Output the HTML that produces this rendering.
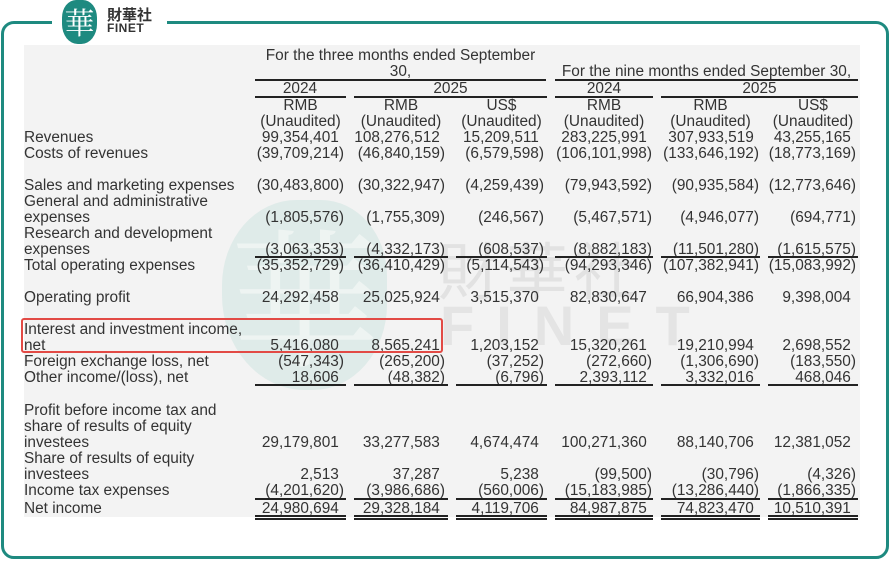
<!DOCTYPE html>
<html><head><meta charset="utf-8"><style>
*{margin:0;padding:0;box-sizing:border-box}
body{width:890px;height:581px;background:#fff;position:relative;overflow:hidden;font-family:"Liberation Sans",Arial,sans-serif;color:#333;font-size:15.4px}
.frame{position:absolute;left:1px;top:21px;width:888px;height:538px;border:3px solid #1e8a80;border-radius:13px}
.gap{position:absolute;left:52px;top:15px;width:115px;height:14px;background:#fff}
.bg{position:absolute;left:24px;top:45px;width:836px;height:472px;background:#f3f3f3}
.r{position:absolute;left:0;width:890px;height:16px;line-height:16px;white-space:nowrap;margin-top:2px}
.l{position:absolute;left:24px}
.n{position:absolute;text-align:right}
.c1{right:546px}.c2{right:445px}.c3{right:346px}.c4{right:238px}.c5{right:131px}.c6{right:34px}
.h{visibility:hidden}
.ln{position:absolute;height:1.5px;background:#222}
.ctr{position:absolute;text-align:center;margin-top:2px;white-space:nowrap}
</style></head><body>
<div class="frame"></div>
<div class="gap"></div>
<div style="position:absolute;left:62px;top:0;width:35px;height:44px;background:#1e8a80;border-radius:40% 40% 45% 45%;color:#fff;font-family:'Noto Serif CJK SC',serif;font-size:30px;line-height:42px;text-align:center">華</div>
<div style="position:absolute;left:107px;top:7px;font-family:'Noto Sans CJK SC',sans-serif;font-size:15px;line-height:15px;font-weight:bold;color:#333">財華社</div>
<div style="position:absolute;left:107px;top:23px;font-size:12px;line-height:11px;font-weight:bold;color:#333;letter-spacing:0.5px">FINET</div>
<div class="bg"></div>
<!-- watermark -->
<div style="position:absolute;left:222px;top:200px;width:165px;height:190px;background:#dbe9e6;border-radius:45% 40% 45% 50%;opacity:0.85"></div>
<div style="position:absolute;left:230px;top:195px;font-family:'Noto Serif CJK SC',serif;font-size:150px;line-height:190px;color:#eef4f2">華</div>
<div style="position:absolute;left:438px;top:236px;font-family:'Noto Sans CJK SC',sans-serif;font-size:62px;line-height:62px;color:#e2e2e2;letter-spacing:6px">財華社</div>
<div style="position:absolute;left:440px;top:298px;font-size:56px;line-height:56px;color:#e4e4e4;letter-spacing:22px;font-weight:bold">FINET</div>

<div class="ctr" style="left:250px;width:301px;top:46px;line-height:16px">For the three months ended September<br>30,</div>
<div class="ctr" style="left:550px;width:313px;top:62px;line-height:16px">For the nine months ended September 30,</div>
<div class="ln" style="left:255px;width:291px;top:79px"></div>
<div class="ln" style="left:555px;width:303px;top:79px"></div>
<div class="ctr" style="left:255px;width:90px;top:79px;line-height:16px">2024</div>
<div class="ctr" style="left:354px;width:193px;top:79px;line-height:16px">2025</div>
<div class="ctr" style="left:555px;width:98px;top:79px;line-height:16px">2024</div>
<div class="ctr" style="left:661px;width:197px;top:79px;line-height:16px">2025</div>
<div class="ln" style="left:255px;width:91px;top:96px"></div>
<div class="ln" style="left:354px;width:193px;top:96px"></div>
<div class="ln" style="left:555px;width:98px;top:96px"></div>
<div class="ln" style="left:661px;width:197px;top:96px"></div>
<div class="ctr" style="left:255px;width:91px;top:96px;line-height:16px">RMB<br>(Unaudited)</div>
<div class="ctr" style="left:354px;width:94px;top:96px;line-height:16px">RMB<br>(Unaudited)</div>
<div class="ctr" style="left:456px;width:91px;top:96px;line-height:16px">US$<br>(Unaudited)</div>
<div class="ctr" style="left:555px;width:98px;top:96px;line-height:16px">RMB<br>(Unaudited)</div>
<div class="ctr" style="left:661px;width:99px;top:96px;line-height:16px">RMB<br>(Unaudited)</div>
<div class="ctr" style="left:768px;width:90px;top:96px;line-height:16px">US$<br>(Unaudited)</div>

<div class="r" style="top:128px"><span class="l">Revenues</span><span class="n c1">99,354,401<span class="h">)</span></span><span class="n c2">108,276,512<span class="h">)</span></span><span class="n c3">15,209,511<span class="h">)</span></span><span class="n c4">283,225,991<span class="h">)</span></span><span class="n c5">307,933,519<span class="h">)</span></span><span class="n c6">43,255,165<span class="h">)</span></span></div>
<div class="r" style="top:144px"><span class="l">Costs of revenues</span><span class="n c1">(39,709,214)</span><span class="n c2">(46,840,159)</span><span class="n c3">(6,579,598)</span><span class="n c4">(106,101,998)</span><span class="n c5">(133,646,192)</span><span class="n c6">(18,773,169)</span></div>
<div class="r" style="top:176px"><span class="l">Sales and marketing expenses</span><span class="n c1">(30,483,800)</span><span class="n c2">(30,322,947)</span><span class="n c3">(4,259,439)</span><span class="n c4">(79,943,592)</span><span class="n c5">(90,935,584)</span><span class="n c6">(12,773,646)</span></div>
<div class="r" style="top:192px"><span class="l">General and administrative</span></div>
<div class="r" style="top:208px"><span class="l">expenses</span><span class="n c1">(1,805,576)</span><span class="n c2">(1,755,309)</span><span class="n c3">(246,567)</span><span class="n c4">(5,467,571)</span><span class="n c5">(4,946,077)</span><span class="n c6">(694,771)</span></div>
<div class="r" style="top:224px"><span class="l">Research and development</span></div>
<div class="r" style="top:240px"><span class="l">expenses</span><span class="n c1">(3,063,353)</span><span class="n c2">(4,332,173)</span><span class="n c3">(608,537)</span><span class="n c4">(8,882,183)</span><span class="n c5">(11,501,280)</span><span class="n c6">(1,615,575)</span></div>
<div class="r" style="top:256px"><span class="l">Total operating expenses</span><span class="n c1">(35,352,729)</span><span class="n c2">(36,410,429)</span><span class="n c3">(5,114,543)</span><span class="n c4">(94,293,346)</span><span class="n c5">(107,382,941)</span><span class="n c6">(15,083,992)</span></div>
<div class="r" style="top:288px"><span class="l">Operating profit</span><span class="n c1">24,292,458<span class="h">)</span></span><span class="n c2">25,025,924<span class="h">)</span></span><span class="n c3">3,515,370<span class="h">)</span></span><span class="n c4">82,830,647<span class="h">)</span></span><span class="n c5">66,904,386<span class="h">)</span></span><span class="n c6">9,398,004<span class="h">)</span></span></div>
<div class="r" style="top:320px"><span class="l">Interest and investment income,</span></div>
<div class="r" style="top:336px"><span class="l">net</span><span class="n c1">5,416,080<span class="h">)</span></span><span class="n c2">8,565,241<span class="h">)</span></span><span class="n c3">1,203,152<span class="h">)</span></span><span class="n c4">15,320,261<span class="h">)</span></span><span class="n c5">19,210,994<span class="h">)</span></span><span class="n c6">2,698,552<span class="h">)</span></span></div>
<div class="r" style="top:352px"><span class="l">Foreign exchange loss, net</span><span class="n c1">(547,343)</span><span class="n c2">(265,200)</span><span class="n c3">(37,252)</span><span class="n c4">(272,660)</span><span class="n c5">(1,306,690)</span><span class="n c6">(183,550)</span></div>
<div class="r" style="top:368px"><span class="l">Other income/(loss), net</span><span class="n c1">18,606<span class="h">)</span></span><span class="n c2">(48,382)</span><span class="n c3">(6,796)</span><span class="n c4">2,393,112<span class="h">)</span></span><span class="n c5">3,332,016<span class="h">)</span></span><span class="n c6">468,046<span class="h">)</span></span></div>
<div class="r" style="top:401px"><span class="l">Profit before income tax and</span></div>
<div class="r" style="top:417px"><span class="l">share of results of equity</span></div>
<div class="r" style="top:433px"><span class="l">investees</span><span class="n c1">29,179,801<span class="h">)</span></span><span class="n c2">33,277,583<span class="h">)</span></span><span class="n c3">4,674,474<span class="h">)</span></span><span class="n c4">100,271,360<span class="h">)</span></span><span class="n c5">88,140,706<span class="h">)</span></span><span class="n c6">12,381,052<span class="h">)</span></span></div>
<div class="r" style="top:449px"><span class="l">Share of results of equity</span></div>
<div class="r" style="top:465px"><span class="l">investees</span><span class="n c1">2,513<span class="h">)</span></span><span class="n c2">37,287<span class="h">)</span></span><span class="n c3">5,238<span class="h">)</span></span><span class="n c4">(99,500)</span><span class="n c5">(30,796)</span><span class="n c6">(4,326)</span></div>
<div class="r" style="top:481px"><span class="l">Income tax expenses</span><span class="n c1">(4,201,620)</span><span class="n c2">(3,986,686)</span><span class="n c3">(560,006)</span><span class="n c4">(15,183,985)</span><span class="n c5">(13,286,440)</span><span class="n c6">(1,866,335)</span></div>
<div class="r" style="top:499px"><span class="l">Net income</span><span class="n c1">24,980,694<span class="h">)</span></span><span class="n c2">29,328,184<span class="h">)</span></span><span class="n c3">4,119,706<span class="h">)</span></span><span class="n c4">84,987,875<span class="h">)</span></span><span class="n c5">74,823,470<span class="h">)</span></span><span class="n c6">10,510,391<span class="h">)</span></span></div>

<div class="ln" style="left:255px;width:91px;top:256px"></div><div class="ln" style="left:354px;width:94px;top:256px"></div><div class="ln" style="left:456px;width:91px;top:256px"></div><div class="ln" style="left:555px;width:98px;top:256px"></div><div class="ln" style="left:661px;width:99px;top:256px"></div><div class="ln" style="left:768px;width:90px;top:256px"></div>
<div class="ln" style="left:255px;width:91px;top:384px"></div><div class="ln" style="left:354px;width:94px;top:384px"></div><div class="ln" style="left:456px;width:91px;top:384px"></div><div class="ln" style="left:555px;width:98px;top:384px"></div><div class="ln" style="left:661px;width:99px;top:384px"></div><div class="ln" style="left:768px;width:90px;top:384px"></div>
<div class="ln" style="left:255px;width:91px;top:498px"></div><div class="ln" style="left:354px;width:94px;top:498px"></div><div class="ln" style="left:456px;width:91px;top:498px"></div><div class="ln" style="left:555px;width:98px;top:498px"></div><div class="ln" style="left:661px;width:99px;top:498px"></div><div class="ln" style="left:768px;width:90px;top:498px"></div>
<div class="ln" style="left:255px;width:91px;top:515px"></div><div class="ln" style="left:354px;width:94px;top:515px"></div><div class="ln" style="left:456px;width:91px;top:515px"></div><div class="ln" style="left:555px;width:98px;top:515px"></div><div class="ln" style="left:661px;width:99px;top:515px"></div><div class="ln" style="left:768px;width:90px;top:515px"></div>
<div class="ln" style="left:255px;width:91px;top:518px"></div><div class="ln" style="left:354px;width:94px;top:518px"></div><div class="ln" style="left:456px;width:91px;top:518px"></div><div class="ln" style="left:555px;width:98px;top:518px"></div><div class="ln" style="left:661px;width:99px;top:518px"></div><div class="ln" style="left:768px;width:90px;top:518px"></div>

<div style="position:absolute;left:21px;top:318px;width:422px;height:35px;border:2.5px solid #e24a45;border-radius:3px"></div>
</body></html>
